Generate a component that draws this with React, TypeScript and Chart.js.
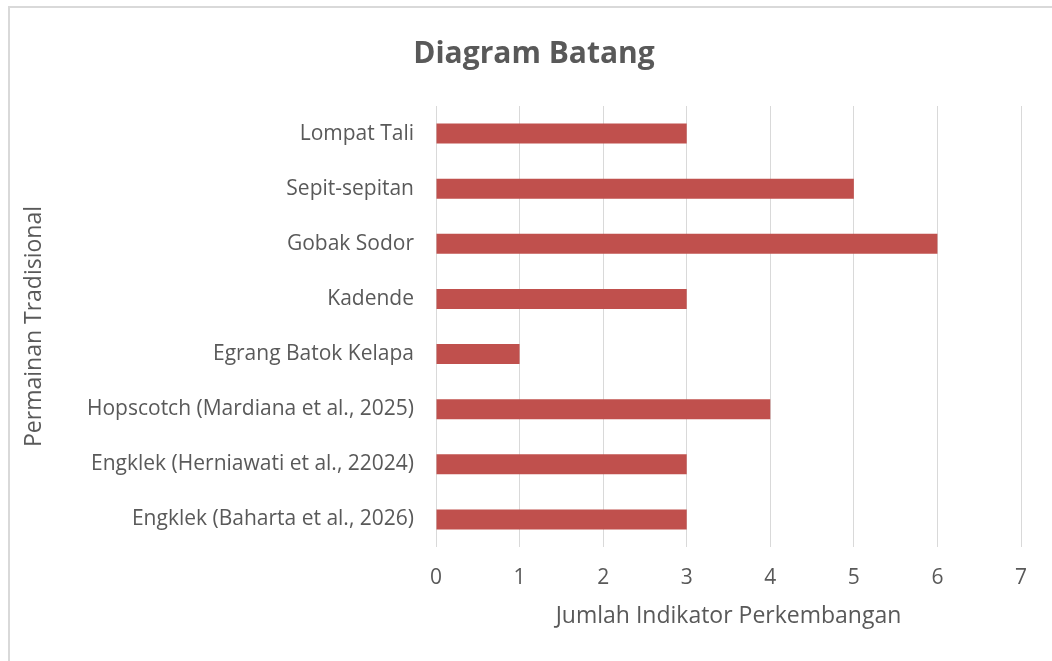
import React, { useEffect, useRef } from "react";
import { Chart, registerables } from "chart.js";

Chart.register(...registerables);

const categories = [
  "Lompat Tali",
  "Sepit-sepitan",
  "Gobak Sodor",
  "Kadende",
  "Egrang Batok Kelapa",
  "Hopscotch (Mardiana et al., 2025)",
  "Engklek (Herniawati et al., 22024)",
  "Engklek (Baharta et al., 2026)",
];
const values = [3, 5, 6, 3, 1, 4, 3, 3];
const xTicks = [0, 1, 2, 3, 4, 5, 6, 7];
const titleText = "Diagram Batang";
const xTitle = "Jumlah Indikator Perkembangan";
const yTitle = "Permainan Tradisional";

const FONT = "'Open Sans', sans-serif";
const TEXT = "#595959";
const GRID = "#D9D9D9";

export default function App() {
  const ref = useRef<HTMLCanvasElement | null>(null);
  useEffect(() => {
    if (!ref.current) return;
    const titlePlugin = {
      id: "customTitle",
      afterDraw(chart: any) {
        const ctx = chart.ctx;
        ctx.save();
        ctx.font = `bold 30px ${FONT}`;
        ctx.fillStyle = TEXT;
        ctx.textAlign = "center";
        ctx.textBaseline = "alphabetic";
        ctx.fillText(titleText, 534, 63);
        ctx.restore();
      },
    };
    const chart = new Chart(ref.current, {
      type: "bar",
      data: {
        labels: categories,
        datasets: [
          {
            data: values,
            backgroundColor: "#C0504D",
            categoryPercentage: 1,
            barPercentage: 0.363,
          },
        ],
      },
      options: {
        indexAxis: "y",
        animation: false,
        responsive: false,
        maintainAspectRatio: false,
        layout: { padding: { top: 106, right: 31, left: 0, bottom: 0 } },
        plugins: {
          legend: { display: false },
          title: { display: false },
          tooltip: { enabled: false },
        },
        scales: {
          x: {
            min: 0,
            max: 7,
            afterBuildTicks(scale: any) {
              scale.ticks = xTicks.map((v) => ({ value: v }));
            },
            afterFit(scale: any) {
              scale.height = 114;
            },
            grid: { color: GRID, lineWidth: 1, drawTicks: false },
            border: { display: false },
            ticks: {
              padding: 18,
              color: TEXT,
              font: { family: FONT, size: 21 },
            },
            title: {
              display: true,
              text: xTitle,
              color: TEXT,
              font: { family: FONT, size: 23 },
              padding: { top: 0, bottom: 31 },
            },
          },
          y: {
            afterFit(scale: any) {
              scale.width = 436;
            },
            grid: { display: false, drawTicks: false },
            border: { display: false },
            ticks: {
              padding: 22,
              color: TEXT,
              font: { family: FONT, size: 21 },
            },
            title: {
              display: true,
              text: yTitle,
              color: TEXT,
              font: { family: FONT, size: 23 },
              padding: { top: 21, bottom: 0 },
            },
          },
        },
      },
      plugins: [titlePlugin],
    });
    return () => chart.destroy();
  }, []);
  return (
    <div>
      <div
        style={{
          position: "fixed",
          left: 8,
          top: 6,
          width: 1100,
          height: 700,
          border: `2px solid ${GRID}`,
          boxSizing: "border-box",
        }}
      />
      <canvas
        ref={ref}
        width={1052}
        height={661}
        style={{ position: "fixed", left: 0, top: 0, width: 1052, height: 661 }}
      />
    </div>
  );
}
